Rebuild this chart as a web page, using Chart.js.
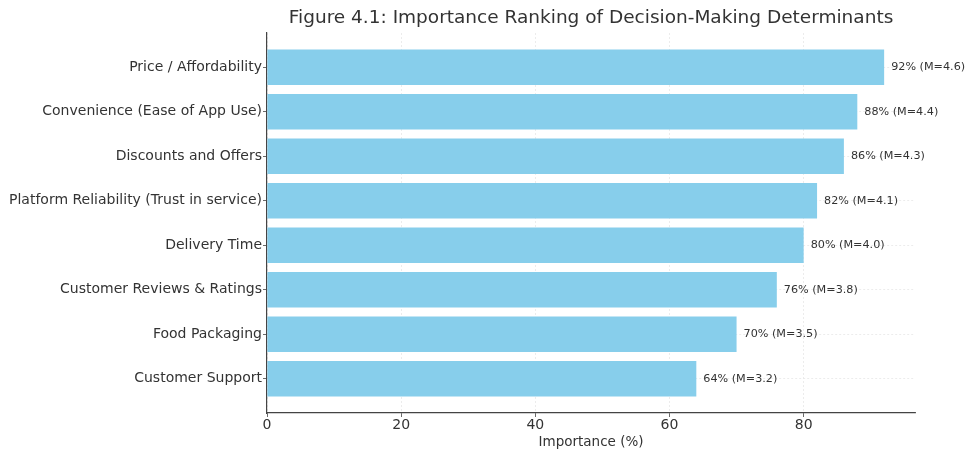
<!DOCTYPE html>
<html>
<head>
<meta charset="utf-8">
<script src="https://cdn.jsdelivr.net/npm/chart.js@4.4.1/dist/chart.umd.min.js"></script>
<style>
  html, body { margin: 0; padding: 0; background: #fff; }
  #wrap { width: 967px; height: 451px; }
</style>
</head>
<body>
<div id="wrap"><canvas id="rankChart" width="967" height="451"></canvas></div>
<script>
// chart values
const categories = [
    "Price / Affordability",
    "Convenience (Ease of App Use)",
    "Discounts and Offers",
    "Platform Reliability (Trust in service)",
    "Delivery Time",
    "Customer Reviews & Ratings",
    "Food Packaging",
    "Customer Support",
];
const importance = [92, 88, 86, 82, 80, 76, 70, 64];
const means = [4.6, 4.4, 4.3, 4.1, 4.0, 3.8, 3.5, 3.2];
const xTicks = [0, 20, 40, 60, 80];

const FONT = "'DejaVu Sans', sans-serif";
const TEXT = "#333333";

// title over the plot area + value labels at the bar ends
const extras = {
    id: "extras",
    afterDatasetsDraw(chart) {
        const ctx = chart.ctx;
        const area = chart.chartArea;
        ctx.save();
        ctx.fillStyle = TEXT;
        ctx.font = "18.5px " + FONT;
        ctx.textAlign = "center";
        ctx.textBaseline = "middle";
        ctx.fillText("Figure 4.1: Importance Ranking of Decision-Making Determinants", (area.left + area.right) / 2, 18);

        ctx.font = "11.2px " + FONT;
        ctx.textAlign = "left";
        chart.getDatasetMeta(0).data.forEach((bar, i) => {
            ctx.fillText(importance[i] + "% (M=" + means[i].toFixed(1) + ")", bar.x + 7, bar.y);
        });
        ctx.restore();
    },
};

var ctx = document.getElementById("rankChart").getContext("2d");
var rankChart = new Chart(ctx, {
    type: "bar",
    data: {
        datasets: [
            {
                data: importance.map((v, i) => ({ x: v, y: i })),
                backgroundColor: "#87CEEB",
                borderWidth: 0,
                barPercentage: 0.8,
                categoryPercentage: 1,
            },
        ],
    },
    options: {
        indexAxis: "y",
        responsive: false,
        animation: false,
        layout: { padding: { top: 33, right: 52, left: 0, bottom: 0 } },
        plugins: {
            legend: { display: false },
            tooltip: { enabled: false },
        },
        scales: {
            x: {
                type: "linear",
                min: 0,
                max: 96.6,
                afterBuildTicks: (scale) => {
                    scale.ticks = xTicks.map((v) => ({ value: v }));
                },
                afterFit: (scale) => {
                    scale.height = 38;
                },
                grid: {
                    color: "#e8e8e8",
                    lineWidth: 0.8,
                    tickColor: "#444",
                    tickLength: 4,
                },
                border: { color: "#444", width: 1.2, dash: [2, 2] },
                ticks: {
                    color: TEXT,
                    font: { family: FONT, size: 14 },
                    padding: 0,
                    maxRotation: 0,
                },
                title: {
                    display: true,
                    text: "Importance (%)",
                    color: TEXT,
                    font: { family: FONT, size: 13.5 },
                    padding: { top: 0, bottom: 0 },
                },
            },
            y: {
                type: "linear",
                reverse: true,
                offset: false,
                min: -0.77,
                max: 7.77,
                afterBuildTicks: (scale) => {
                    scale.ticks = categories.map((c, i) => ({ value: i }));
                },
                afterFit: (scale) => {
                    scale.width = 267;
                },
                grid: {
                    offset: false,
                    color: "#e8e8e8",
                    lineWidth: 0.8,
                    tickColor: "#444",
                    tickLength: 4,
                },
                border: { color: "#444", width: 1.2, dash: [2, 2] },
                ticks: {
                    color: TEXT,
                    font: { family: FONT, size: 14 },
                    padding: 1,
                    callback: (v) => categories[v],
                },
            },
        },
    },
    plugins: [extras],
});
</script>
</body>
</html>
